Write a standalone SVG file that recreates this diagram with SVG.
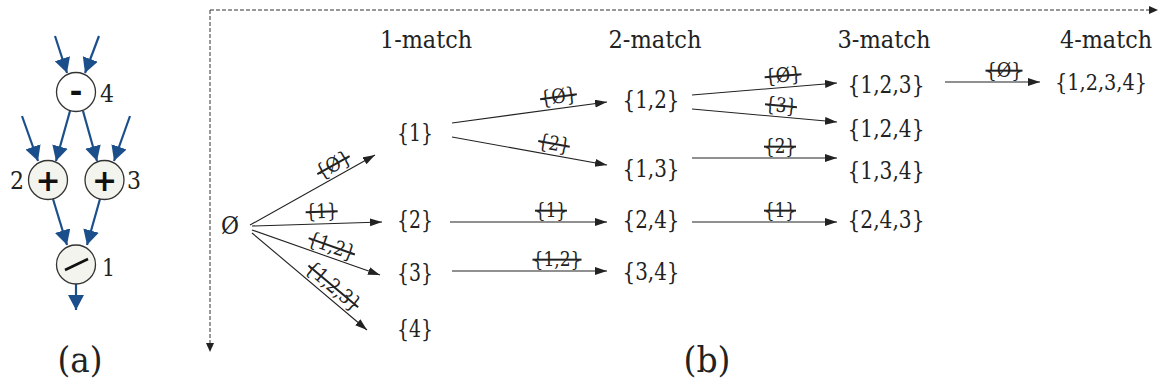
<svg xmlns="http://www.w3.org/2000/svg" width="1161" height="389" viewBox="0 0 1161 389">
<style>
.t{font-family:'DejaVu Serif','Liberation Serif',serif;fill:#222}
.set{font-size:24px;text-anchor:middle}
.hdr{font-size:24px;text-anchor:middle}
.lbl{font-size:20px;text-anchor:middle;text-decoration:line-through}
.cap{font-size:36px;text-anchor:middle}
.num{font-size:25px}
.e{stroke:#222;stroke-width:1.1;fill:none;marker-end:url(#ah)}
.d{stroke:#333;stroke-width:1;fill:none;stroke-dasharray:4 2}
.b{stroke:#1b4f8b;stroke-width:2.2;fill:none;marker-end:url(#bh)}
.op{fill:#f4f4ee;stroke:#333;stroke-width:1.3}
.opw{fill:#fff;stroke:#333;stroke-width:1.3}
.sym{font-family:'DejaVu Sans','Liberation Sans',sans-serif;font-weight:bold;font-size:30px;text-anchor:middle;fill:#111}
</style>
<defs>
<marker id="ah" markerUnits="userSpaceOnUse" markerWidth="14" markerHeight="10" refX="12" refY="4" orient="auto"><path d="M0,0 L12,4 L0,8 Z" fill="#222"/></marker>
<marker id="dh" markerUnits="userSpaceOnUse" markerWidth="12" markerHeight="10" refX="9" refY="4" orient="auto"><path d="M0,0 L9,4 L0,8 Z" fill="#222"/></marker>
<marker id="bh" markerUnits="userSpaceOnUse" markerWidth="18" markerHeight="18" refX="15" refY="8" orient="auto"><path d="M0,0 L15,8 L0,16 Z" fill="#1b4f8b"/></marker>
</defs>

<!-- panel (a) -->
<g id="a-connectors">
<line class="b" x1="55" y1="36" x2="67" y2="73"/>
<line class="b" x1="99" y1="36" x2="85" y2="73"/>
<line class="b" x1="70" y1="111" x2="56" y2="161"/>
<line class="b" x1="22" y1="116" x2="38" y2="161"/>
<line class="b" x1="83" y1="111" x2="97" y2="161"/>
<line class="b" x1="130" y1="116" x2="114" y2="161"/>
<line class="b" x1="53" y1="199" x2="67" y2="245"/>
<line class="b" x1="100" y1="199" x2="87" y2="245"/>
<line class="b" x1="76" y1="284" x2="76" y2="310"/>
</g>
<g id="op4"><circle class="opw" cx="76" cy="92" r="19.5"/><text class="sym" x="76" y="102" textLength="13" lengthAdjust="spacingAndGlyphs">-</text><text class="t num" x="100" y="102" textLength="14" lengthAdjust="spacingAndGlyphs">4</text></g>
<g id="op2"><circle class="op" cx="48" cy="180" r="19.5"/><text class="sym" x="48" y="191">+</text><text class="t num" x="10" y="189" textLength="14" lengthAdjust="spacingAndGlyphs">2</text></g>
<g id="op3"><circle class="op" cx="104.5" cy="180" r="19.5"/><text class="sym" x="104.5" y="191">+</text><text class="t num" x="127" y="189" textLength="14" lengthAdjust="spacingAndGlyphs">3</text></g>
<g id="op1"><circle class="op" cx="76" cy="264.5" r="19.5"/><line x1="65" y1="270" x2="88" y2="259" stroke="#111" stroke-width="2.6"/><text class="t num" x="102" y="276" textLength="13" lengthAdjust="spacingAndGlyphs">1</text></g>
<text class="t cap" x="80" y="372" textLength="45" lengthAdjust="spacingAndGlyphs">(a)</text>

<!-- panel (b) -->
<g id="axes">
<line class="d" x1="210" y1="10" x2="1158" y2="10" marker-end="url(#dh)"/>
<line class="d" x1="210" y1="10" x2="210" y2="352" marker-end="url(#dh)"/>
</g>
<g id="headers">
<text class="t hdr" x="426" y="48" textLength="92" lengthAdjust="spacingAndGlyphs">1-match</text>
<text class="t hdr" x="655" y="48" textLength="93" lengthAdjust="spacingAndGlyphs">2-match</text>
<text class="t hdr" x="884" y="48" textLength="93" lengthAdjust="spacingAndGlyphs">3-match</text>
<text class="t hdr" x="1106" y="48" textLength="92" lengthAdjust="spacingAndGlyphs">4-match</text>
</g>
<g id="n-empty"><text class="t set" x="230" y="234" textLength="18" lengthAdjust="spacingAndGlyphs">Ø</text></g>
<g id="n1"><text class="t set" x="415" y="141" textLength="36" lengthAdjust="spacingAndGlyphs">{1}</text></g>
<g id="n2"><text class="t set" x="415" y="228" textLength="36" lengthAdjust="spacingAndGlyphs">{2}</text></g>
<g id="n3"><text class="t set" x="415" y="281" textLength="36" lengthAdjust="spacingAndGlyphs">{3}</text></g>
<g id="n4"><text class="t set" x="415" y="337" textLength="36" lengthAdjust="spacingAndGlyphs">{4}</text></g>
<g id="n12"><text class="t set" x="651" y="108" textLength="57" lengthAdjust="spacingAndGlyphs">{1,2}</text></g>
<g id="n13"><text class="t set" x="651" y="177" textLength="57" lengthAdjust="spacingAndGlyphs">{1,3}</text></g>
<g id="n24"><text class="t set" x="651" y="228" textLength="57" lengthAdjust="spacingAndGlyphs">{2,4}</text></g>
<g id="n34"><text class="t set" x="651" y="280" textLength="57" lengthAdjust="spacingAndGlyphs">{3,4}</text></g>
<g id="n123"><text class="t set" x="886" y="93" textLength="77" lengthAdjust="spacingAndGlyphs">{1,2,3}</text></g>
<g id="n124"><text class="t set" x="886" y="137" textLength="77" lengthAdjust="spacingAndGlyphs">{1,2,4}</text></g>
<g id="n134"><text class="t set" x="886" y="179" textLength="77" lengthAdjust="spacingAndGlyphs">{1,3,4}</text></g>
<g id="n243"><text class="t set" x="886" y="228" textLength="77" lengthAdjust="spacingAndGlyphs">{2,4,3}</text></g>
<g id="n1234"><text class="t set" x="1101" y="90" font-size="23" style="font-size:23px" textLength="92" lengthAdjust="spacingAndGlyphs">{1,2,3,4}</text></g>

<g id="connectors">
<line class="e" x1="250" y1="225" x2="375" y2="155"/>
<line class="e" x1="252" y1="226" x2="382" y2="222"/>
<line class="e" x1="252" y1="230" x2="380" y2="275"/>
<line class="e" x1="252" y1="233" x2="367" y2="330"/>
<line class="e" x1="452" y1="123" x2="607" y2="102"/>
<line class="e" x1="452" y1="137" x2="607" y2="165"/>
<line class="e" x1="450" y1="222" x2="607" y2="222"/>
<line class="e" x1="452" y1="271" x2="607" y2="271"/>
<line class="e" x1="692" y1="95" x2="837" y2="83"/>
<line class="e" x1="692" y1="109" x2="837" y2="122"/>
<line class="e" x1="692" y1="158" x2="837" y2="158"/>
<line class="e" x1="692" y1="222" x2="837" y2="222"/>
<line class="e" x1="945" y1="82" x2="1040" y2="82"/>
<text class="t lbl" transform="translate(339,175) rotate(-29.2)" x="0" y="-5" textLength="37" lengthAdjust="spacingAndGlyphs">{Ø}</text>
<text class="t lbl" transform="translate(322,223) rotate(-1.8)" x="0" y="-5" textLength="32" lengthAdjust="spacingAndGlyphs">{1}</text>
<text class="t lbl" transform="translate(328,257) rotate(19.4)" x="0" y="-5" textLength="49" lengthAdjust="spacingAndGlyphs">{1,2}</text>
<text class="t lbl" transform="translate(326,295) rotate(40.1)" x="0" y="-5" textLength="65" lengthAdjust="spacingAndGlyphs">{1,2,3}</text>
<text class="t lbl" transform="translate(560,108) rotate(-7.7)" x="0" y="-5" textLength="37" lengthAdjust="spacingAndGlyphs">{Ø}</text>
<text class="t lbl" transform="translate(552,155) rotate(10.2)" x="0" y="-5" textLength="32" lengthAdjust="spacingAndGlyphs">{2}</text>
<text class="t lbl" x="551" y="217" textLength="32" lengthAdjust="spacingAndGlyphs">{1}</text>
<text class="t lbl" x="557" y="266" textLength="49" lengthAdjust="spacingAndGlyphs">{1,2}</text>
<text class="t lbl" transform="translate(784,87) rotate(-4.7)" x="0" y="-5" textLength="37" lengthAdjust="spacingAndGlyphs">{Ø}</text>
<text class="t lbl" transform="translate(780,117) rotate(5.1)" x="0" y="-5" textLength="32" lengthAdjust="spacingAndGlyphs">{3}</text>
<text class="t lbl" x="780" y="153" textLength="32" lengthAdjust="spacingAndGlyphs">{2}</text>
<text class="t lbl" x="780" y="217" textLength="32" lengthAdjust="spacingAndGlyphs">{1}</text>
<text class="t lbl" x="1004" y="77" textLength="37" lengthAdjust="spacingAndGlyphs">{Ø}</text>
</g>
<text class="t cap" x="707" y="372" textLength="47" lengthAdjust="spacingAndGlyphs">(b)</text>
</svg>
